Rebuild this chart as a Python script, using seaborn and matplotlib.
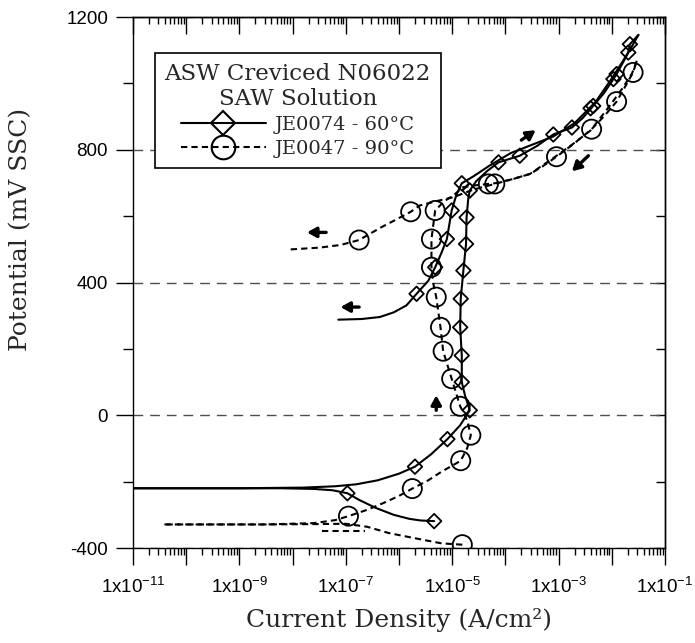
import numpy as np
import pandas as pd
import matplotlib
matplotlib.use("Agg")
import matplotlib.pyplot as plt
import seaborn as sns
from matplotlib.lines import Line2D
from matplotlib.ticker import LogLocator, NullFormatter, FixedLocator

# ---- data (log10 of current density, potential in mV) ----
# JE0074 - 60C (solid, diamonds)
je74_cath_logi = [-5.34, -5.6, -5.81, -6.1, -6.44, -6.75, -6.97, -7.25, -7.6, -8.2, -9.5, -11.0]
je74_cath_mv = [-319, -317, -312, -300, -279, -255, -235, -226, -222, -220, -220, -220]
je74_anod_logi = [-11.0, -9.0, -7.8, -7.2, -6.8, -6.4, -6.0, -5.7, -5.4, -5.09, -4.85, -4.67,
                  -4.76, -4.82, -4.82, -4.85, -4.84, -4.79, -4.74, -4.73, -4.70, -4.67, -4.55,
                  -4.35, -4.13, -3.73, -3.40, -3.10, -2.75, -2.55, -2.35, -2.15, -1.97, -1.91,
                  -1.80, -1.69, -1.66, -1.50]
je74_anod_mv = [-220, -220, -218, -214, -208, -196, -176, -155, -118, -72, -30, 15,
                60, 100, 180, 265, 351, 436, 516, 596, 650, 677, 705,
                735, 762, 782, 812, 846, 867, 895, 932, 970, 1013, 1028,
                1060, 1093, 1118, 1146]
je74_rev_logi = [-1.50, -1.62, -1.80, -2.0, -2.3, -2.7, -3.1, -3.5, -3.9, -4.3, -4.6, -4.82,
                 -4.92, -5.01, -5.10, -5.20, -5.32, -5.45, -5.67, -5.86, -6.1, -6.36, -6.7, -7.14]
je74_rev_mv = [1146, 1112, 1065, 1015, 945, 880, 840, 815, 790, 752, 720, 699,
               665, 617, 531, 490, 446, 405, 366, 331, 310, 296, 290, 288]
je74_mark_logi = [-5.34, -6.97, -5.70, -5.09, -4.67, -4.82, -4.82, -4.85, -4.84, -4.79, -4.74,
                  -4.73, -4.67, -4.82, -4.13, -3.73, -3.10, -2.75, -2.35, -2.40, -1.97, -1.91,
                  -1.69, -1.66, -5.01, -5.10, -5.32, -5.67]
je74_mark_mv = [-319, -235, -155, -72, 15, 100, 180, 265, 351, 436, 516,
                596, 677, 699, 762, 782, 846, 867, 932, 925, 1013, 1028,
                1093, 1118, 617, 531, 446, 366]

# JE0047 - 90C (dashed, circles)
je47_cath_logi = [-4.81, -5.2, -5.56, -6.19, -6.6, -7.0, -7.6, -8.5, -10.41]
je47_cath_mv = [-390, -386, -375, -355, -336, -327, -328, -329, -329]
je47_cath2_logi = [-7.44, -6.63]
je47_cath2_mv = [-350, -350]
je47_anod_logi = [-10.41, -8.5, -7.6, -7.2, -6.95, -6.6, -6.3, -6.0, -5.75, -5.45, -5.2, -4.98,
                  -4.84, -4.72, -4.65, -4.72, -4.85, -5.01, -5.17, -5.22, -5.30, -5.36, -5.39,
                  -5.39, -5.32, -5.15, -4.98, -4.80, -4.55, -4.32, -4.20, -3.85, -3.54, -3.30,
                  -3.04, -2.70, -2.38, -2.15, -1.91, -1.75, -1.60, -1.53]
je47_anod_mv = [-329, -329, -325, -316, -304, -285, -265, -243, -221, -196, -170, -150,
                -137, -100, -60, -15, 27, 110, 193, 265, 356, 400, 446,
                531, 617, 645, 662, 687, 693, 697, 699, 712, 727, 750,
                779, 820, 862, 900, 945, 990, 1033, 1068]
je47_rev_logi = [-1.53, -1.62, -1.80, -2.05, -2.40, -2.75, -3.10, -3.54, -3.90, -4.20, -4.60,
                 -4.98, -5.30, -5.61, -5.78, -6.05, -6.35, -6.75, -7.10, -7.50, -8.11]
je47_rev_mv = [1068, 1030, 985, 930, 858, 815, 775, 727, 710, 697, 680,
               657, 645, 632, 613, 590, 565, 528, 513, 505, 499]
je47_mark_logi = [-4.81, -6.95, -5.75, -4.84, -4.65, -4.85, -5.01, -5.17, -5.22, -5.30, -5.39,
                  -5.39, -5.32, -4.32, -4.20, -3.04, -2.38, -1.91, -1.60, -5.78, -6.75]
je47_mark_mv = [-390, -304, -221, -137, -60, 27, 110, 193, 265, 356, 446,
                531, 617, 697, 697, 779, 862, 945, 1033, 613, 528]

# scan direction arrows: (tail logi, tail mv) -> (tip logi, tip mv)
arrow_tail_logi = [-7.37, -6.75, -5.30, -3.70, -2.44]
arrow_tail_mv = [551, 326, 15, 829, 782]
arrow_tip_logi = [-7.73, -7.10, -5.30, -3.43, -2.75]
arrow_tip_mv = [551, 326, 60, 859, 735]

series_labels = ["JE0074 - 60°C", "JE0047 - 90°C"]
legend_title = "ASW Creviced N06022\nSAW Solution"
x_tick_exps = list(range(-11, 0))
x_label_exps = [-11, -9, -7, -5, -3, -1]
y_ticks = [-400, 0, 400, 800, 1200]
y_tick_labels = ["-400", "0", "400", "800", "1200"]
y_minor = [-200, 200, 600, 1000]


def segs(*pairs):
    frames = []
    for i, (lx, ly) in enumerate(pairs):
        frames.append(pd.DataFrame({"logi": lx, "mv": ly, "seg": i}))
    d = pd.concat(frames, ignore_index=True)
    d["current"] = 10.0 ** d["logi"]
    return d


df74 = segs((je74_cath_logi, je74_cath_mv), (je74_anod_logi, je74_anod_mv), (je74_rev_logi, je74_rev_mv))
df47 = segs((je47_cath_logi, je47_cath_mv), (je47_cath2_logi, je47_cath2_mv),
            (je47_anod_logi, je47_anod_mv), (je47_rev_logi, je47_rev_mv))

sns.set_theme(style="ticks")
plt.rcParams["font.family"] = ["Liberation Sans", "DejaVu Sans"]
plt.rcParams["mathtext.fontset"] = "custom"
plt.rcParams["mathtext.rm"] = "Liberation Sans"
plt.rcParams["mathtext.default"] = "rm"
serif = ["DejaVu Serif"]

fig = plt.figure(figsize=(6.95, 6.43), dpi=100)
ax = fig.add_axes([0.19137, 0.14774, 0.76547, 0.82582])
ax.set_xscale("log")

sns.lineplot(data=df74, x="current", y="mv", units="seg", estimator=None, sort=False,
             color="black", lw=1.5, ax=ax, legend=False)
sns.lineplot(data=df47, x="current", y="mv", units="seg", estimator=None, sort=False,
             color="black", lw=1.5, linestyle=(0, (3, 2)), ax=ax, legend=False)

sns.scatterplot(x=10.0 ** np.array(je74_mark_logi), y=je74_mark_mv, marker="D", s=55,
                color="black", facecolor="none", edgecolor="black", linewidth=1.3, ax=ax, zorder=3)
sns.scatterplot(x=10.0 ** np.array(je47_mark_logi), y=je47_mark_mv, marker="o", s=190,
                color="black", facecolor="none", edgecolor="black", linewidth=1.3, ax=ax, zorder=3)

for tl, tm, hl, hm in zip(arrow_tail_logi, arrow_tail_mv, arrow_tip_logi, arrow_tip_mv):
    ax.annotate("", xy=(10.0 ** hl, hm), xytext=(10.0 ** tl, tm),
                arrowprops=dict(arrowstyle="-|>,head_length=0.45,head_width=0.25",
                                color="black", lw=2.4, shrinkA=0, shrinkB=0))

ax.set_xlim(1e-11, 1e-1)
ax.set_ylim(-400, 1200)

# ticks
ax.xaxis.set_major_locator(FixedLocator([10.0 ** e for e in x_tick_exps]))
ax.set_xticklabels(["1x10$^{%d}$" % e if e in x_label_exps else "" for e in x_tick_exps])
ax.xaxis.set_minor_locator(LogLocator(base=10, subs=np.arange(2, 10), numticks=100))
ax.xaxis.set_minor_formatter(NullFormatter())
ax.set_yticks(y_ticks)
ax.set_yticklabels(y_tick_labels)
ax.set_yticks(y_minor, minor=True)
ax.tick_params(axis="x", which="major", direction="out", length=12, width=1, labelsize=13.5, pad=9, colors="black")
ax.tick_params(axis="x", which="minor", direction="out", length=5, width=1, colors="black")
ax.tick_params(axis="y", which="major", direction="out", length=12, width=1, labelsize=13.5, pad=6, colors="black")
ax.tick_params(axis="y", which="minor", direction="out", length=7, width=1, colors="black")

top = ax.secondary_xaxis("top")
top.xaxis.set_major_locator(FixedLocator([10.0 ** e for e in x_tick_exps]))
top.xaxis.set_minor_locator(LogLocator(base=10, subs=np.arange(2, 10), numticks=100))
top.xaxis.set_major_formatter(NullFormatter())
top.xaxis.set_minor_formatter(NullFormatter())
top.tick_params(which="major", direction="in", length=12, width=1, colors="black")
top.tick_params(which="minor", direction="in", length=5, width=1, colors="black")
right = ax.secondary_yaxis("right")
right.set_yticks(y_ticks)
right.set_yticks(y_minor, minor=True)
right.yaxis.set_major_formatter(NullFormatter())
right.tick_params(which="both", direction="in", length=6.5, width=1, colors="black")
for sp in list(ax.spines.values()) + list(top.spines.values()) + list(right.spines.values()):
    sp.set_color("black")
    sp.set_linewidth(1.0)

ax.grid(axis="y", which="major", linestyle=(0, (7, 5)), color="0.3", lw=1.0)

ax.set_xlabel("Current Density (A/cm²)", fontsize=18, family=serif)
ax.set_ylabel("Potential (mV SSC)", fontsize=18, family=serif)
ax.xaxis.set_label_coords(0.5, -0.113)
ax.yaxis.set_label_coords(-0.19, 0.6)

handles = [
    Line2D([], [], color="black", lw=1.5, ls="-", marker="D", ms=12, mfc="none", mec="black", mew=1.5),
    Line2D([], [], color="black", lw=1.5, ls=(0, (3, 2)), marker="o", ms=17, mfc="none", mec="black", mew=1.5),
]
leg = ax.legend(handles, series_labels, title=legend_title, loc="upper left",
                bbox_to_anchor=(0.041, 0.932), borderaxespad=0, frameon=True, fancybox=False,
                edgecolor="black", framealpha=1, prop={"family": serif, "size": 14},
                title_fontproperties={"family": serif, "size": 16.5}, alignment="center",
                handlelength=4.4, handletextpad=0.45, borderpad=0.5, labelspacing=0.3, numpoints=1)
leg.get_frame().set_linewidth(1.2)
leg.get_title().set_multialignment("center")

fig.savefig("out.png", dpi=100)
